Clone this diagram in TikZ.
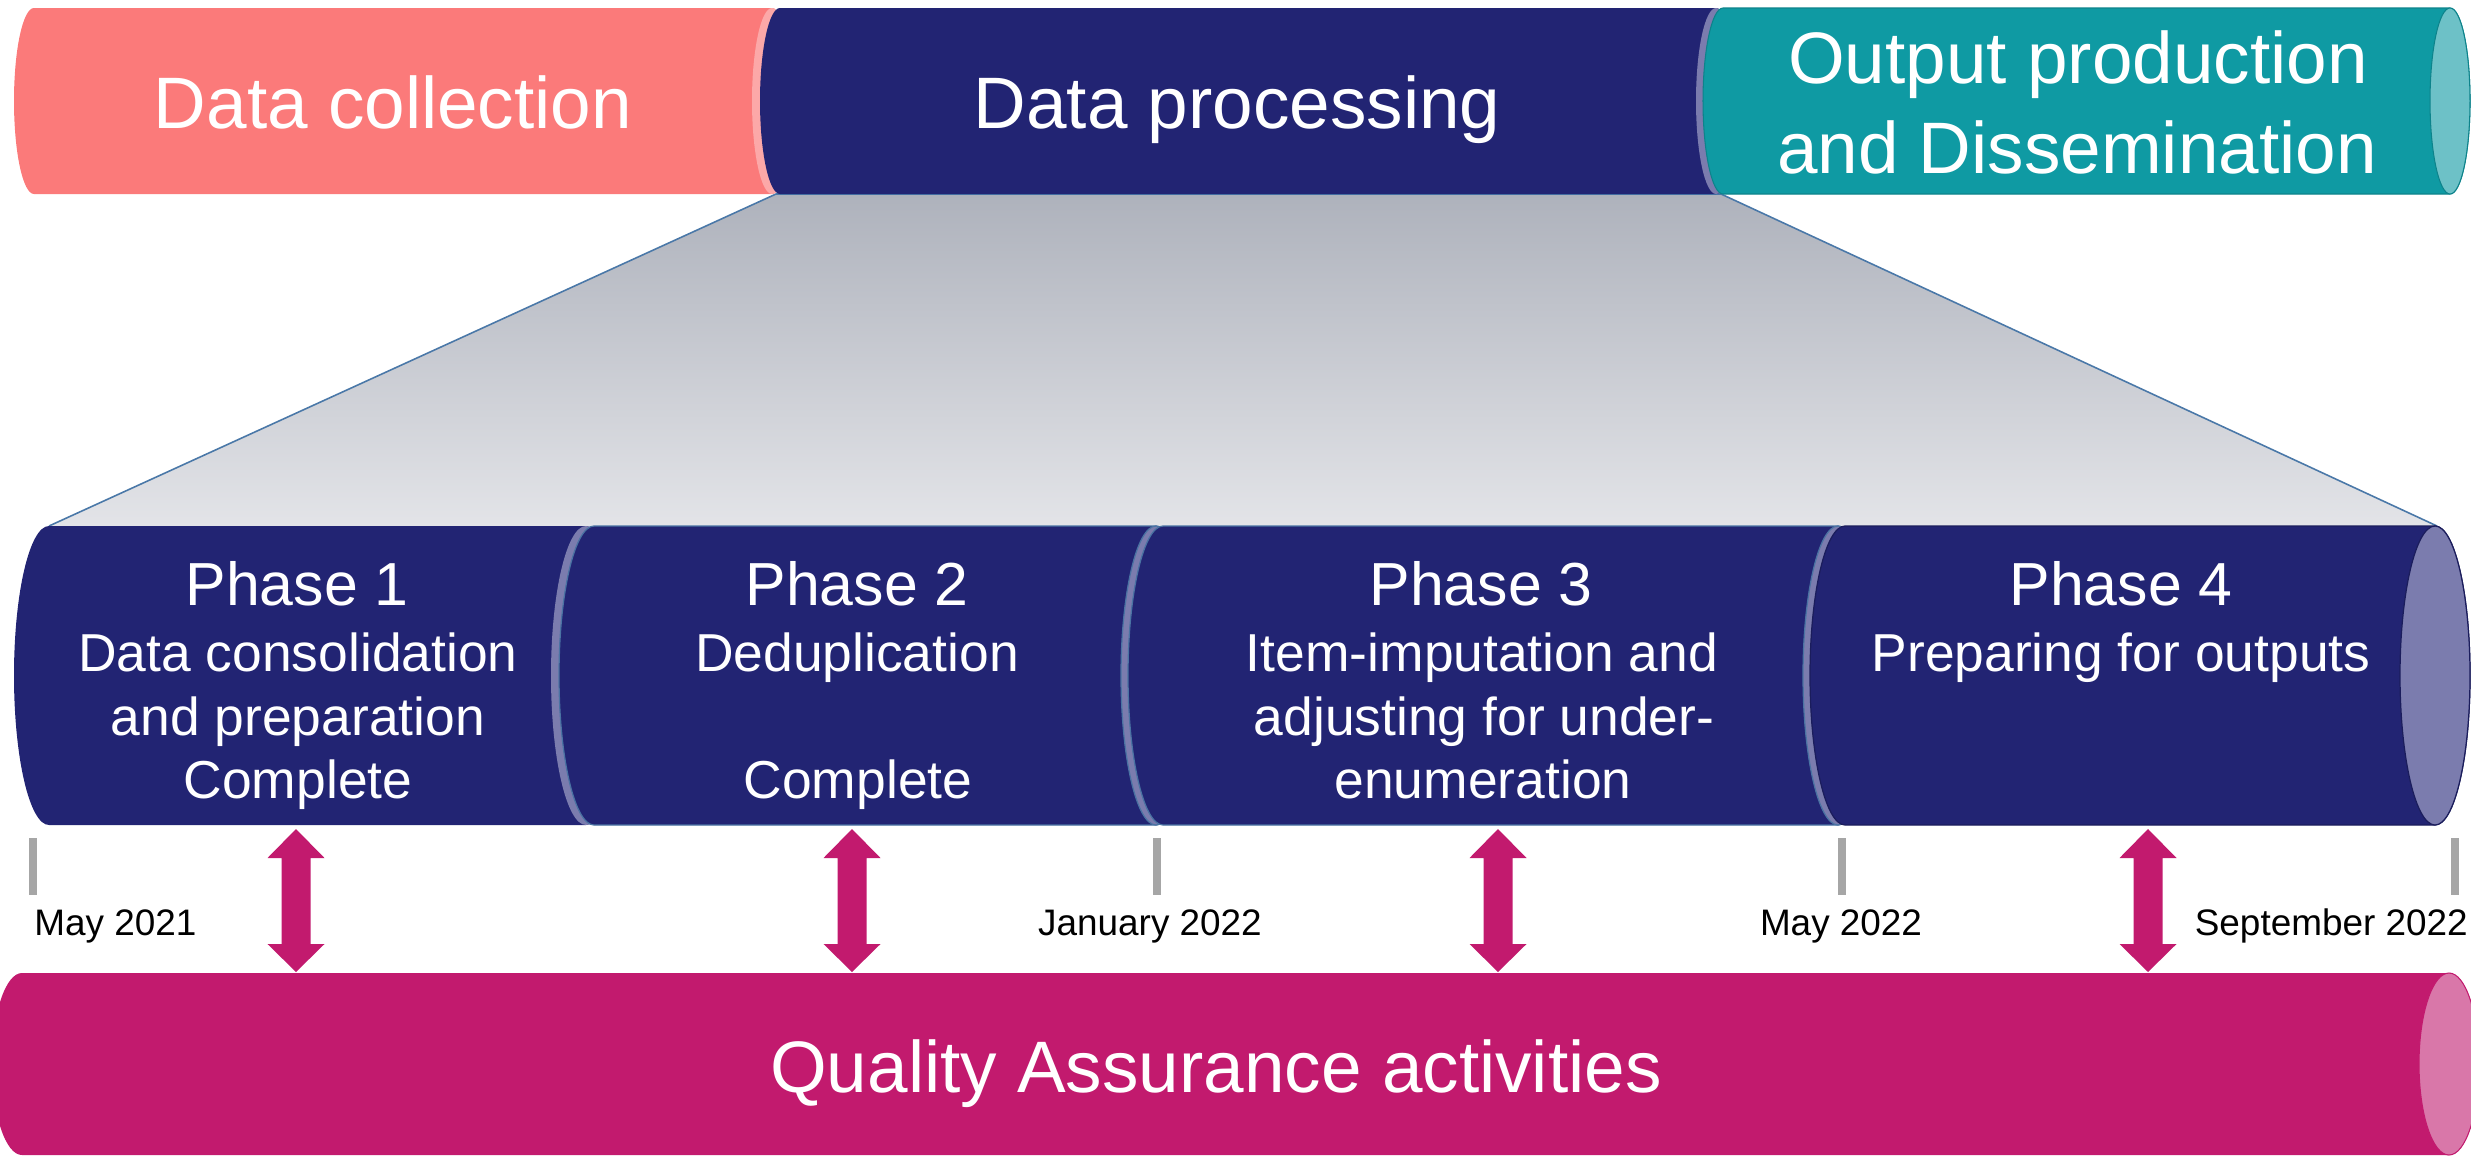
\documentclass[tikz,border=0pt]{standalone}
\usepackage{fontspec}
\setmainfont{Liberation Sans}
\definecolor{dcpink}{HTML}{FB7A7A}
\definecolor{dcend}{HTML}{FCA8A8}
\definecolor{navy}{HTML}{222473}
\definecolor{navyend}{HTML}{7B7CAE}
\definecolor{navyline}{HTML}{4A73A3}
\definecolor{teal}{HTML}{0F9AA3}
\definecolor{tealend}{HTML}{6DC1C7}
\definecolor{magenta}{HTML}{C21A6E}
\definecolor{magend}{HTML}{D977A9}
\definecolor{tickgray}{HTML}{A6A6A6}
\definecolor{tredge}{HTML}{4A78A8}
\definecolor{trtop}{HTML}{AEB2BC}
\definecolor{trbot}{HTML}{E3E4E8}
% #1 left arc centre x, #2 right end centre x, #3 top y, #4 bottom y, #5 rx, #6 body style, #7 end style
\newcommand\cylshape[7]{%
  \path[#6] (#1,#3) arc[start angle=270, end angle=90, x radius=#5, y radius={(#4-#3)/2}]
    -- (#2,#4) arc[start angle=90, end angle=-90, x radius=#5, y radius={(#4-#3)/2}] -- cycle;
  \path[#7] (#2,{(#3+#4)/2}) ellipse[x radius=#5, y radius={(#4-#3)/2}];
}
\tikzset{
  bartext/.style={text=white, font=\fontsize{41.5}{50}\selectfont, anchor=base, inner sep=0pt},
  phasetitle/.style={text=white, font=\fontsize{34.6}{40}\selectfont, anchor=base, inner sep=0pt},
  phasetext/.style={text=white, font=\fontsize{30.4}{36}\selectfont, anchor=base, inner sep=0pt},
  datetext/.style={text=black, font=\fontsize{21}{25}\selectfont, inner sep=0pt},
  tickmark/.style={fill=tickgray, draw=none},
  qaarrow/.style={fill=magenta, draw=none},
}
\begin{document}
\begin{tikzpicture}[x=0.02cm, y=-0.02cm]
\useasboundingbox (0,0) rectangle (2471,1157);
% zoom trapezoid
\shade[top color=trtop, bottom color=trbot] (776,194) -- (1721,194) -- (2437,526) -- (49,526) -- cycle;
\draw[tredge, line width=0.9pt] (49,526) -- (776,194) -- (1721,194) -- (2437,526);
% top bars
\cylshape{34}{772}{8}{194}{20}{fill=dcpink}{fill=dcend}
\cylshape{780}{1716}{8}{194}{20}{fill=navy}{fill=navyend}
\cylshape{1723}{2450}{8}{194}{20}{fill=teal, draw=teal!85!black, line width=0.6pt}{fill=tealend, draw=teal!85!black, line width=0.6pt}
% phase bars
\cylshape{49}{586}{526}{825}{35}{fill=navy}{fill=navyend}
\cylshape{594}{1156}{526}{825}{35}{fill=navy, draw=navyline, line width=0.7pt}{fill=navyend, draw=navyline, line width=0.7pt}
\cylshape{1163}{1838}{526}{825}{35}{fill=navy, draw=navyline, line width=0.7pt}{fill=navyend, draw=navyline, line width=0.7pt}
\cylshape{1845}{2435}{526}{825}{35}{fill=navy, draw=navy!80!black, line width=0.7pt}{fill=navyend, draw=navy!80!black, line width=0.7pt}
% timeline ticks
\foreach \tx in {33,1157,1842,2455}
  \fill[tickgray] (\tx-4,838) rectangle (\tx+4,895);
% double arrows
\foreach \c in {296,852,1498,2148}
  \path[qaarrow] (\c,829) -- (\c+28.5,858) -- (\c+14.5,858) -- (\c+14.5,944) -- (\c+28.5,944)
    -- (\c,972) -- (\c-28.5,944) -- (\c-14.5,944) -- (\c-14.5,858) -- (\c-28.5,858) -- cycle;
% QA bar
\cylshape{22}{2449}{973}{1155}{30}{fill=magenta}{fill=magend, draw=magenta, line width=0.6pt}
% texts
\node[bartext] (dc) at (393,128) {Data collection};
\node[bartext] (dp) at (1237,128) {Data processing};
\node[bartext] (op1) at (2078,83) {Output production};
\node[bartext] (op2) at (2077,173) {and Dissemination};
\node[phasetitle] (p1t) at (297,605) {Phase 1};
\node[phasetext] (p1a) at (298,671) {Data consolidation};
\node[phasetext] (p1b) at (298,735) {and preparation};
\node[phasetext] (p1c) at (298,798) {Complete};
\node[phasetitle] (p2t) at (857,605) {Phase 2};
\node[phasetext] (p2a) at (857,671) {Deduplication};
\node[phasetext] (p2c) at (858,798) {Complete};
\node[phasetitle] (p3t) at (1481,605) {Phase 3};
\node[phasetext] (p3a) at (1482,671) {Item-imputation and};
\node[phasetext] (p3b) at (1484,735) {adjusting for under-};
\node[phasetext] (p3c) at (1483,798) {enumeration};
\node[phasetitle] (p4t) at (2121,605) {Phase 4};
\node[phasetext] (p4a) at (2121,671) {Preparing for outputs};
\node[datetext, anchor=base west] (d1) at (34,935) {May 2021};
\node[datetext, anchor=base] (d2) at (1150,935) {January 2022};
\node[datetext, anchor=base] (d3) at (1841,935) {May 2022};
\node[datetext, anchor=base east] (d4) at (2468,935) {September 2022};
\node[bartext] (qa) at (1216,1092) {Quality Assurance activities};
\end{tikzpicture}
\end{document}
